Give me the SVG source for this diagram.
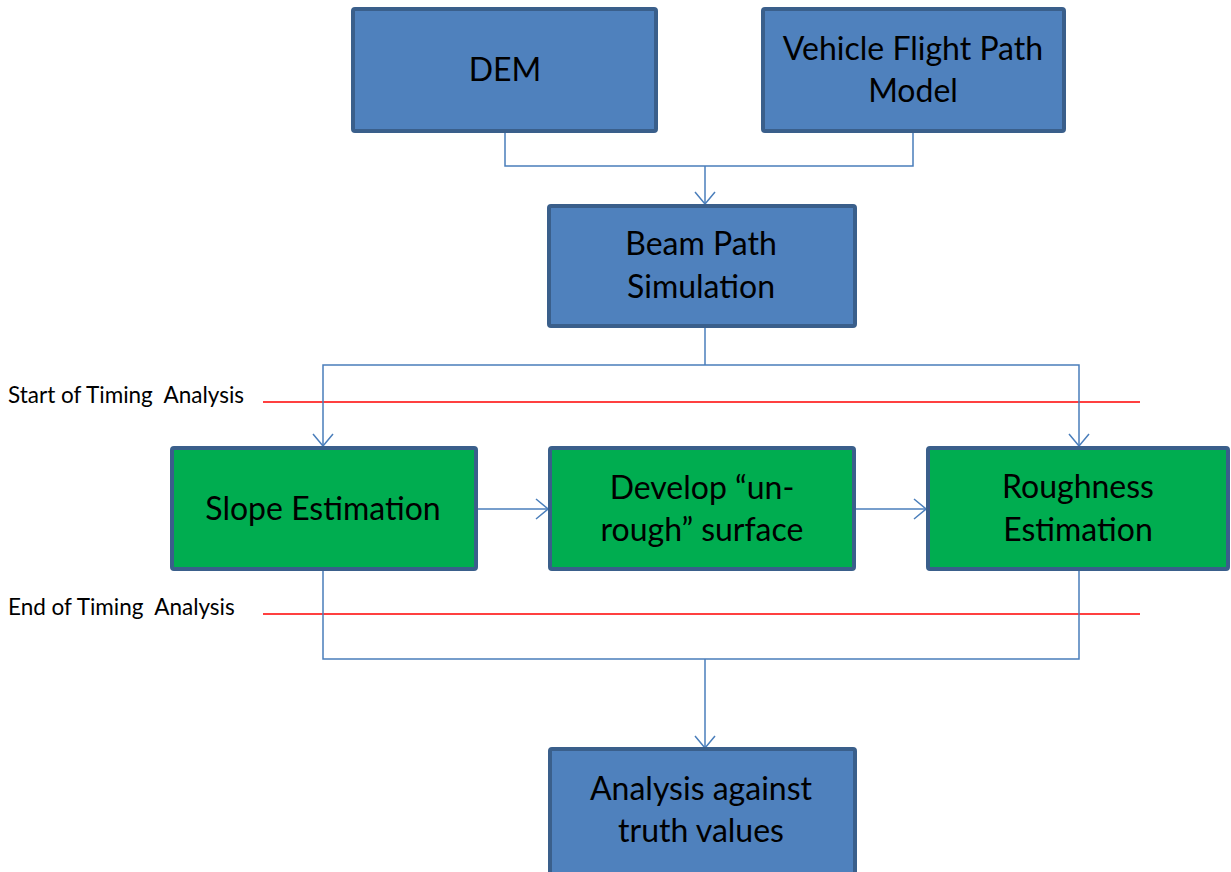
<svg xmlns="http://www.w3.org/2000/svg" width="1231" height="872" viewBox="0 0 1231 872">
  <style>
    .box-blue { fill: #4f81bd; stroke: #3a5f8b; stroke-width: 4; }
    .box-green { fill: #00ad50; stroke: #3a5f8b; stroke-width: 4; }
    .label { font-family: Lato, "Liberation Sans", sans-serif; font-size: 32px; fill: #000; text-anchor: middle; }
    .note { font-family: Lato, "Liberation Sans", sans-serif; font-size: 22.5px; fill: #000; white-space: pre; }
    .conn { fill: none; stroke: #4a7ebb; stroke-width: 1.5; }
    .timing { stroke: #ff0000; stroke-width: 1.5; }
  </style>
  <defs>
    <marker id="arrow" viewBox="0 0 14 22" refX="13" refY="11" markerWidth="14" markerHeight="22" markerUnits="userSpaceOnUse" orient="auto">
      <path d="M1,1 L13,11 L1,21" fill="none" stroke="#4a7ebb" stroke-width="1.5"/>
    </marker>
  </defs>

  <!-- timing markers -->
  <g id="timing">
    <line class="timing" x1="263" y1="402" x2="1140" y2="402"/>
    <line class="timing" x1="263" y1="614" x2="1140" y2="614"/>
    <text class="note" x="8" y="403" xml:space="preserve">Start of Timing  Analysis</text>
    <text class="note" x="8" y="615" xml:space="preserve">End of Timing  Analysis</text>
  </g>

  <!-- connectors -->
  <g id="connectors">
    <path class="conn" d="M505,133 V166 H913 V133"/>
    <path class="conn" d="M705,166 V204" marker-end="url(#arrow)"/>
    <path class="conn" d="M705,328 V365"/>
    <path class="conn" d="M705,365 H323 V446" marker-end="url(#arrow)"/>
    <path class="conn" d="M705,365 H1079 V446" marker-end="url(#arrow)"/>
    <path class="conn" d="M478,509 H548" marker-end="url(#arrow)"/>
    <path class="conn" d="M856,509 H926" marker-end="url(#arrow)"/>
    <path class="conn" d="M323,571 V659 H1079 V571"/>
    <path class="conn" d="M705,659 V748" marker-end="url(#arrow)"/>
  </g>

  <g id="dem">
    <rect class="box-blue" x="353" y="9" width="303" height="122" rx="2"/>
    <text class="label" x="505" y="81">DEM</text>
  </g>

  <g id="flight-path">
    <rect class="box-blue" x="763" y="9" width="301" height="122" rx="2"/>
    <text class="label" x="913" y="60">Vehicle Flight Path</text>
    <text class="label" x="913" y="102">Model</text>
  </g>

  <g id="beam-path">
    <rect class="box-blue" x="549" y="206" width="306" height="120" rx="2"/>
    <text class="label" x="701" y="255">Beam Path</text>
    <text class="label" x="701" y="298">Simulation</text>
  </g>

  <g id="slope">
    <rect class="box-green" x="172" y="448" width="304" height="121" rx="2"/>
    <text class="label" x="323" y="520">Slope Estimation</text>
  </g>

  <g id="unrough">
    <rect class="box-green" x="550" y="448" width="304" height="121" rx="2"/>
    <text class="label" x="702" y="499">Develop “un-</text>
    <text class="label" x="702" y="541">rough” surface</text>
  </g>

  <g id="roughness">
    <rect class="box-green" x="928" y="448" width="300" height="121" rx="2"/>
    <text class="label" x="1078" y="498">Roughness</text>
    <text class="label" x="1078" y="541">Estimation</text>
  </g>

  <g id="analysis">
    <rect class="box-blue" x="550" y="749" width="305" height="125" rx="2"/>
    <text class="label" x="701" y="800">Analysis against</text>
    <text class="label" x="701" y="842">truth values</text>
  </g>
</svg>
